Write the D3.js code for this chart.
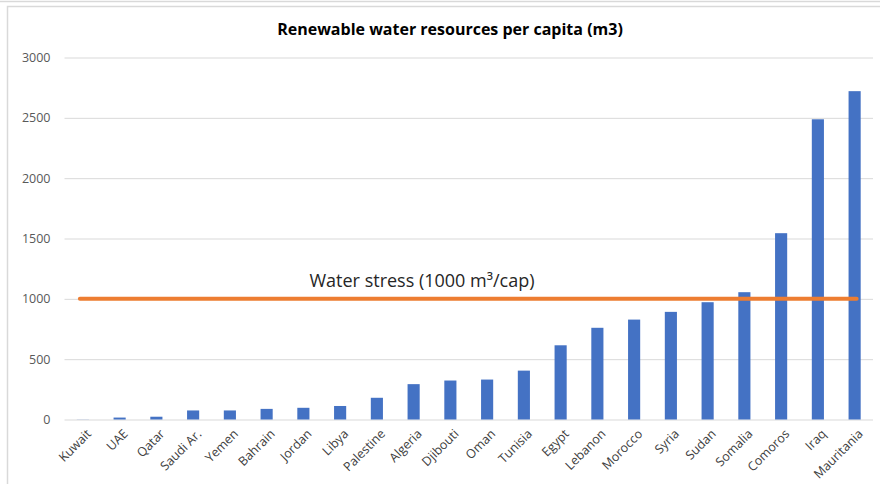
<!DOCTYPE html>
<html><head><meta charset="utf-8">
<script src="https://cdn.jsdelivr.net/npm/d3@7"></script>
<style>
html,body{margin:0;padding:0;background:#fff;}
svg{display:block;font-family:"Open Sans",sans-serif;}
</style></head>
<body>
<svg id="c" width="880" height="484"></svg>
<script>
const countries = ["Kuwait","UAE","Qatar","Saudi Ar.","Yemen","Bahrain","Jordan","Libya","Palestine","Algeria","Djibouti","Oman","Tunisia","Egypt","Lebanon","Morocco","Syria","Sudan","Somalia","Comoros","Iraq","Mauritania"];
const waterPerCapita = [1,16,23,75,75,88,97,112,180,293,323,331,405,615,760,828,892,972,1055,1544,2488,2721];
const yTicks = [0,500,1000,1500,2000,2500,3000];
const stressThreshold = 1000;
const title = "Renewable water resources per capita (m3)";
const stressLabel = "Water stress (1000 m\u00B3/cap)";

const svg = d3.select("#c");
const W = 880, H = 484;
const m = {left:64.5, right:7, top:57.5, bottom:64.5};

// frame
svg.append("line").attr("x1",0).attr("x2",W).attr("y1",1.5).attr("y2",1.5).attr("stroke","#d9d9d9").attr("stroke-width",1.5);
svg.append("path").attr("d",`M7.5,${H} V6.5 H${W}`).attr("fill","none").attr("stroke","#d9d9d9").attr("stroke-width",1.5);

const x = d3.scaleBand().domain(countries).range([m.left, W-m.right]).paddingInner(0.67).paddingOuter(0.335);
const y = d3.scaleLinear().domain([0,3000]).range([H-m.bottom, m.top]);

// gridlines + y labels
const yAxis = d3.axisLeft(y).tickValues(yTicks).tickFormat(d3.format("d")).tickSize(-(W-m.right-m.left)).tickPadding(14);
const gy = svg.append("g").attr("transform",`translate(${m.left},0)`).call(yAxis);
gy.select(".domain").remove();
gy.selectAll(".tick line").attr("stroke","#d9d9d9").attr("stroke-width",1);
gy.selectAll(".tick text").attr("fill","#595959").style("font-size","12.5px").style("font-family","'Open Sans',sans-serif");

// bars
svg.append("g").selectAll("rect").data(countries).join("rect")
  .attr("x",d=>x(d)).attr("width",x.bandwidth())
  .attr("y",(d,i)=>y(waterPerCapita[i]))
  .attr("height",(d,i)=>y(0)-y(waterPerCapita[i]))
  .attr("fill","#4472C4");

// x labels
const xAxis = d3.axisBottom(x).tickSize(0).tickPadding(0);
const gx = svg.append("g").attr("transform",`translate(0,${y(0)})`).call(xAxis);
gx.select(".domain").remove();
gx.selectAll(".tick text")
  .attr("fill","#404040").style("font-size","12.5px").style("font-family","'Open Sans',sans-serif")
  .attr("text-anchor","end").attr("dy","0.35em")
  .attr("transform","translate(6,12) rotate(-45)");

// threshold line
svg.append("line")
  .attr("x1",x(countries[0])+x.bandwidth()/2-3)
  .attr("x2",x(countries[countries.length-1])+x.bandwidth()/2+2)
  .attr("y1",y(stressThreshold)).attr("y2",y(stressThreshold))
  .attr("stroke","#ED7D31").attr("stroke-width",4).attr("stroke-linecap","round");

svg.append("text").attr("x",422).attr("y",y(stressThreshold)-12)
  .attr("text-anchor","middle").attr("fill","#262626")
  .style("font-size","18px").text(stressLabel);

// title
svg.append("text").attr("x",450).attr("y",35).attr("text-anchor","middle")
  .attr("fill","#000").style("font-size","16px").style("font-weight","bold").text(title);
</script>
</body></html>
